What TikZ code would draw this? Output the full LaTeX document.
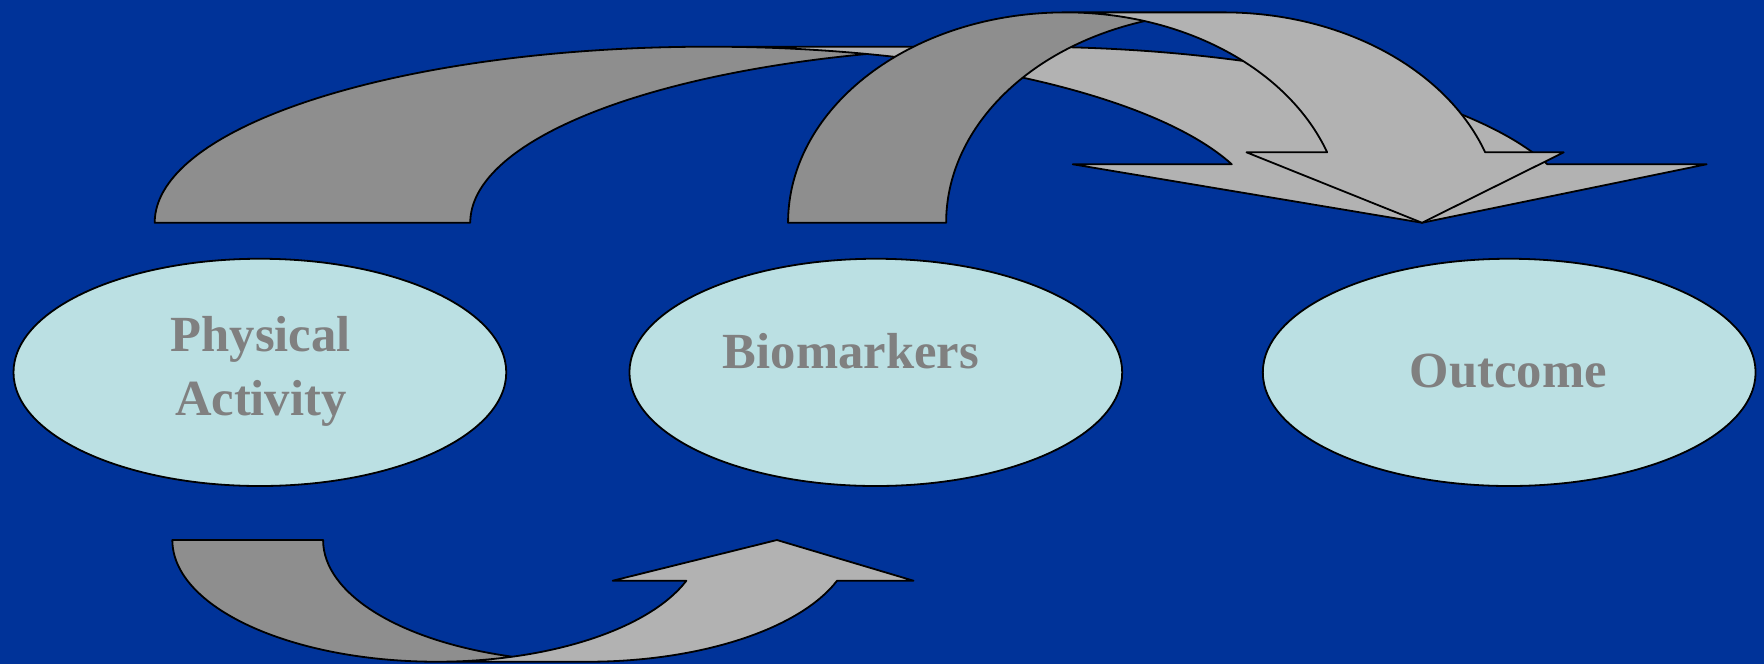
\documentclass[tikz,border=0pt]{standalone}
\usepackage{fontspec}
\setmainfont{Liberation Serif}
\usetikzlibrary{shapes.geometric}
\definecolor{bgblue}{HTML}{003399}
\definecolor{bubblefill}{HTML}{BBE0E3}
\definecolor{lightgray}{HTML}{B2B2B2}
\definecolor{darkgray}{HTML}{8E8E8E}
\definecolor{textgray}{HTML}{808080}
\tikzset{
  bubble/.style={ellipse, draw=black, line width=1.6pt, fill=bubblefill,
    minimum width=438pt, minimum height=202pt, inner sep=0pt},
  lbl/.style={anchor=base, inner sep=0pt, text=textgray,
    font=\fontsize{45}{56}\selectfont\bfseries},
  headfill/.style={fill=lightgray},
  tailfill/.style={fill=darkgray},
  outline/.style={draw=black, line width=1.6pt, line join=round},
  ellA/.style={x radius=492.7, y radius=156.5},
  ellB/.style={x radius=246.7, y radius=187},
  ellC/.style={x radius=235.2, y radius=108.2}
}
\begin{document}
\begin{tikzpicture}[x=1pt, y=-1pt]
\useasboundingbox (0,0) rectangle (1568,590);
\fill[bgblue] (0,0) rectangle (1568,590);

% Ellipses
\node[bubble] (pa) at (231,331) {};
\node[bubble] (bio) at (778.5,331) {};
\node[bubble] (out) at (1341.5,331) {};

\node[lbl] (paA) at (231.8,312.6) {Physical};
\node[lbl] (paB) at (231.8,369) {Activity};
\node[lbl] (bioT) at (756.3,327.4) {Biomarkers};
\node[lbl] (outT) at (1340.7,344.6) {Outcome};

% Arrow A: Physical Activity -> Outcome (curved down)
\fill[headfill] (1264,198) -- (953.5,146) -- (1094.9,146)
  arc[ellA, start angle=340.59, end angle=270] -- (910.7,41.5)
  arc[ellA, start angle=270, end angle=340.59] -- (1517,146) -- cycle;
\fill[tailfill] (770.45,48.0) arc[ellA, start angle=253.46, end angle=180]
  -- (137.5,198) arc[ellA, start angle=180, end angle=286.54] -- cycle;
\draw[outline] (770.45,48.0) arc[ellA, start angle=253.46, end angle=180]
  -- (137.5,198) arc[ellA, start angle=180, end angle=270]
  -- (910.7,41.5) arc[ellA, start angle=270, end angle=340.59]
  -- (1517,146) -- (1264,198) -- (953.5,146) -- (1094.9,146)
  arc[ellA, start angle=340.59, end angle=270];

% Arrow B: Biomarkers -> Outcome (curved down)
\fill[headfill] (1264,198) -- (1108,135.4) -- (1179.7,135.4)
  arc[ellB, start angle=340.44, end angle=270] -- (1087.7,11)
  arc[ellB, start angle=270, end angle=340.44] -- (1390,135.4) -- cycle;
\fill[tailfill] (1017.45,18.74) arc[ellB, start angle=253.45, end angle=180]
  -- (700.5,198) arc[ellB, start angle=180, end angle=286.55] -- cycle;
\draw[outline] (1017.45,18.74) arc[ellB, start angle=253.45, end angle=180]
  -- (700.5,198) arc[ellB, start angle=180, end angle=270]
  -- (1087.7,11) arc[ellB, start angle=270, end angle=340.44]
  -- (1390,135.4) -- (1264,198) -- (1108,135.4) -- (1179.7,135.4)
  arc[ellB, start angle=340.44, end angle=270];

% Arrow C: Physical Activity -> Biomarkers (curved up)
\fill[headfill] (690.6,480) -- (544.6,516.2) -- (610.1,516.2)
  arc[ellC, start angle=19.55, end angle=90] -- (522.4,588.2)
  arc[ellC, start angle=90, end angle=19.55] -- (812,516.2) -- cycle;
\fill[tailfill] (455.4,583.7) arc[ellC, start angle=106.55, end angle=180]
  -- (153.2,480) arc[ellC, start angle=180, end angle=73.45] -- cycle;
\draw[outline] (455.4,583.7) arc[ellC, start angle=106.55, end angle=180]
  -- (153.2,480) arc[ellC, start angle=180, end angle=90]
  -- (522.4,588.2) arc[ellC, start angle=90, end angle=19.55]
  -- (812,516.2) -- (690.6,480) -- (544.6,516.2) -- (610.1,516.2)
  arc[ellC, start angle=19.55, end angle=90];
\end{tikzpicture}
\end{document}
